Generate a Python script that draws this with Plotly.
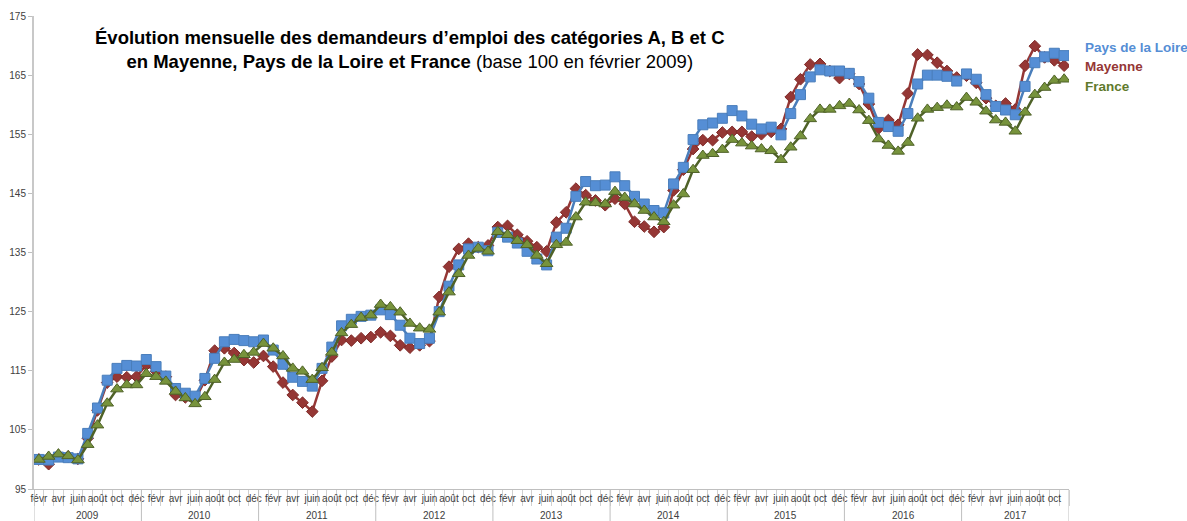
import plotly.graph_objects as go

# ---- data ----
month_names = ["janv", "févr", "mars", "avr", "mai", "juin", "juil", "août", "sept", "oct", "nov", "déc"]
years = [2009, 2010, 2011, 2012, 2013, 2014, 2015, 2016, 2017]

pays_de_la_loire = [
    100.0, 99.9, 100.4, 100.3, 100.1, 104.4, 108.7, 113.4, 115.4, 115.9, 115.8,
    116.9, 115.7, 114.1, 112.0, 111.2, 110.7, 113.7, 117.1, 119.9, 120.3, 120.1, 119.9,
    120.2, 118.5, 116.1, 113.9, 113.2, 112.4, 115.4, 119.0, 122.6, 123.7, 124.2, 124.4,
    125.3, 124.5, 122.7, 120.5, 119.6, 120.5, 125.0, 129.3, 132.9, 135.6, 135.9, 135.3,
    138.4, 137.6, 136.6, 135.2, 133.9, 132.9, 137.6, 139.1, 144.5, 147.0, 146.3, 146.4,
    147.8, 146.3, 144.5, 143.2, 142.1, 141.7, 146.6, 149.4, 154.1, 156.6, 156.9, 157.7,
    159.0, 158.1, 156.7, 155.9, 156.2, 154.9, 158.5, 161.7, 164.7, 165.9, 165.7, 165.7,
    165.3, 163.9, 161.1, 157.0, 156.3, 155.5, 158.5, 163.5, 165.0, 165.0, 164.8, 164.0,
    165.2, 164.3, 161.7, 159.7, 159.1, 158.3, 163.1, 167.1, 168.1, 168.7, 168.3,
]
mayenne = [
    100.0, 99.2, 100.6, 100.5, 100.1, 103.6, 108.3, 113.0, 114.0, 113.9, 114.0,
    116.0, 114.9, 114.0, 110.9, 110.5, 110.1, 113.4, 118.4, 118.8, 118.0, 116.8, 116.4,
    117.5, 115.7, 113.0, 110.9, 109.6, 108.1, 113.3, 117.4, 120.2, 120.1, 120.5, 120.7,
    121.5, 120.9, 119.3, 118.9, 119.3, 120.0, 127.5, 132.6, 135.6, 136.5, 135.9, 136.2,
    139.3, 139.5, 138.0, 136.9, 135.9, 135.2, 140.1, 141.8, 145.8, 144.7, 143.8, 143.0,
    144.1, 143.2, 140.2, 139.4, 138.5, 139.3, 145.5, 149.0, 152.5, 154.0, 154.0, 155.3,
    155.4, 155.4, 154.6, 155.0, 155.4, 155.9, 161.3, 164.3, 166.8, 166.9, 165.7, 164.5,
    165.2, 163.5, 160.1, 156.0, 157.4, 156.6, 161.9, 168.5, 168.4, 167.1, 165.7, 164.6,
    164.9, 163.7, 161.1, 159.8, 160.2, 159.2, 166.6, 169.9, 168.0, 167.5, 166.6,
]
france = [
    100.0, 100.5, 100.9, 100.6, 99.9, 102.5, 105.8, 109.5, 111.9, 112.6, 112.6,
    114.5, 114.0, 113.2, 111.5, 110.4, 109.4, 110.6, 113.5, 116.4, 116.9, 117.7, 118.1,
    119.6, 118.8, 117.5, 115.4, 114.9, 113.5, 115.5, 118.1, 121.4, 122.8, 124.0, 124.4,
    126.2, 125.8, 124.9, 123.0, 122.2, 122.0, 124.9, 128.3, 131.4, 134.5, 135.7, 135.2,
    138.5, 138.0, 137.0, 136.3, 134.5, 133.1, 136.3, 136.7, 141.0, 143.5, 143.4, 143.2,
    145.3, 144.3, 143.2, 142.1, 141.0, 140.2, 143.0, 144.9, 149.0, 151.4, 151.7, 152.4,
    154.1, 153.5, 153.0, 152.5, 152.2, 150.7, 152.8, 154.7, 157.6, 159.2, 159.2, 159.8,
    160.2, 159.1, 157.3, 154.2, 153.1, 152.1, 153.6, 157.7, 159.2, 159.5, 159.9, 159.6,
    161.2, 160.4, 158.9, 157.4, 157.0, 155.5, 158.7, 161.7, 162.9, 164.1, 164.3,
]
y_ticks = [95, 105, 115, 125, 135, 145, 155, 165, 175]

# categories: févr 2009 -> nov 2017
cat_months, cat_years = [], []
for y in years:
    for m in range(12):
        if (y == 2009 and m < 1) or (y == 2017 and m > 10):
            continue
        cat_months.append(month_names[m])
        cat_years.append(y)
idx = list(range(len(cat_months)))

BLUE_LINE = "#4A7EBB"
BLUE_FILL = "#558ED5"
RED = "#953735"
GREEN_LINE = "#4F6228"
GREEN_FILL = "#77933C"
FONT = "Liberation Sans, Arial"

fig = go.Figure()
fig.add_trace(go.Scatter(
    x=idx, y=mayenne, mode="lines+markers", name="Mayenne",
    line=dict(color=RED, width=2.5),
    marker=dict(symbol="diamond", size=9, color=RED, line=dict(color="#7F2A28", width=1)),
))
fig.add_trace(go.Scatter(
    x=idx, y=pays_de_la_loire, mode="lines+markers", name="Pays de la Loire",
    line=dict(color=BLUE_LINE, width=2.5),
    marker=dict(symbol="square", size=10, color=BLUE_FILL, line=dict(color="#4A7EBB", width=1)),
))
fig.add_trace(go.Scatter(
    x=idx, y=france, mode="lines+markers", name="France",
    line=dict(color=GREEN_LINE, width=2.5),
    marker=dict(symbol="triangle-up", size=11, color=GREEN_FILL, line=dict(color=GREEN_LINE, width=1)),
))

tick_vals = [i for i in idx if i % 2 == 0]
tick_text = [cat_months[i] for i in tick_vals]

annotations = []
shapes = []
# year labels and separators
boundaries = [-0.5]
for y in years:
    members = [i for i in idx if cat_years[i] == y]
    annotations.append(dict(
        x=(members[0] + members[-1]) / 2, y=-0.057, xref="x", yref="paper",
        text=str(y), showarrow=False, yanchor="middle",
        font=dict(family=FONT, size=10, color="#404040"),
    ))
    boundaries.append(members[-1] + 0.5)
for b in boundaries:
    shapes.append(dict(type="line", xref="x", yref="paper", x0=b, x1=b, y0=0, y1=-0.075,
                       line=dict(color="#BFBFBF", width=1)))

# title
annotations.append(dict(
    x=0.363, y=0.982, xref="paper", yref="paper", xanchor="center", yanchor="top",
    showarrow=False, align="center",
    text=("<b>Évolution mensuelle des demandeurs d’emploi des catégories A, B et C</b><br>"
          "<b>en Mayenne, Pays de la Loire et France</b> (base 100 en février 2009)"),
    font=dict(family=FONT, size=18.5, color="#000000"),
))
# series labels
for name, col, yy in [("Pays de la Loire", BLUE_FILL, 0.934),
                      ("Mayenne", RED, 0.893),
                      ("France", "#5F7A2C", 0.851)]:
    annotations.append(dict(
        x=1.0135, y=yy, xref="paper", yref="paper", xanchor="left", yanchor="middle",
        showarrow=False, text=f"<b>{name}</b>",
        font=dict(family=FONT, size=13.5, color=col),
    ))

fig.update_layout(
    width=1187, height=521,
    margin=dict(l=34, r=118, t=16, b=32, autoexpand=False),
    paper_bgcolor="white", plot_bgcolor="white",
    showlegend=False,
    font=dict(family=FONT, size=10, color="#404040"),
    annotations=annotations, shapes=shapes,
    xaxis=dict(
        range=[-0.5, len(idx) - 0.5], tickmode="array", tickvals=tick_vals, ticktext=tick_text,
        ticks="", showgrid=False, zeroline=False, showline=True, linecolor="#BFBFBF", linewidth=1,
        tickangle=0, tickfont=dict(size=10, color="#404040"), automargin=False,
        minor=dict(tick0=0.5, dtick=1, ticks="outside", ticklen=16, tickcolor="#D0D0D0", showgrid=False),
    ),
    yaxis=dict(
        range=[95, 175], tickvals=y_ticks, ticks="outside", ticklen=4, tickcolor="#BFBFBF",
        showgrid=False, zeroline=False, showline=True, linecolor="#C8C8C8", linewidth=2,
        tickfont=dict(size=10, color="#404040"), automargin=False,
    ),
)

fig.write_html("out.html", config={"displayModeBar": False},
               post_script="document.body.style.margin='0';")
